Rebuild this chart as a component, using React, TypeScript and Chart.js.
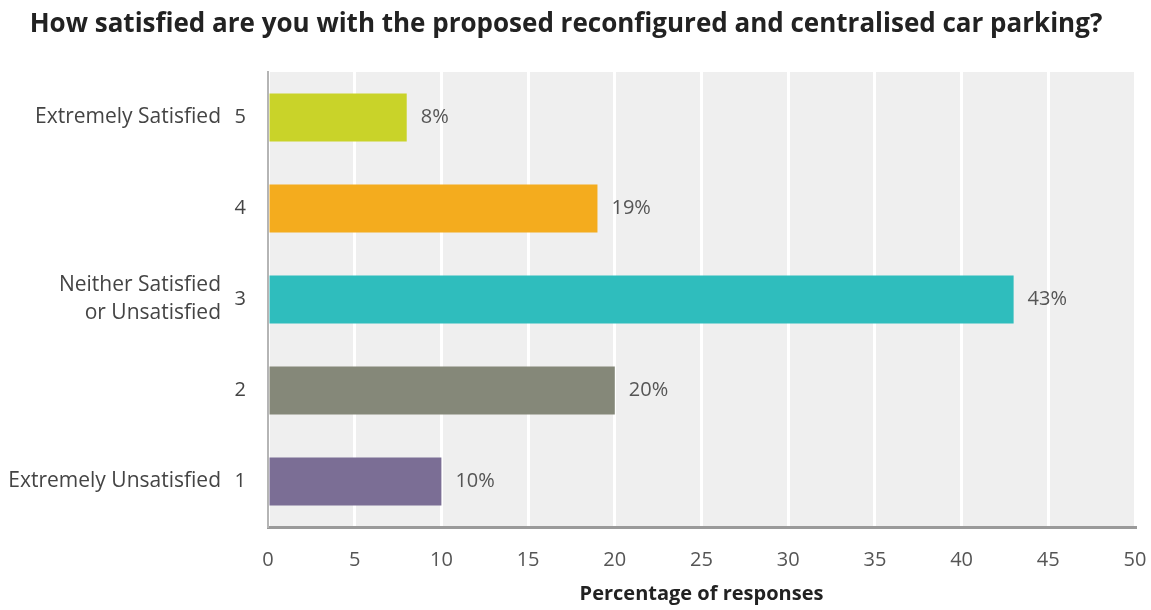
import React, { useEffect, useRef } from "react";
import { Chart, registerables } from "chart.js";

Chart.register(...registerables);

const titleText = "How satisfied are you with the proposed reconfigured and centralised car parking?";
const ratingLabels = ["5", "4", "3", "2", "1"];
const descriptions: (string | string[])[] = [
  "Extremely Satisfied",
  "",
  ["Neither Satisfied", "or Unsatisfied"],
  "",
  "Extremely Unsatisfied",
];
const percentages = [8, 19, 43, 20, 10];
const barColors = ["#c9d329", "#f4ac1e", "#2fbdbd", "#858879", "#7b6e95"];
const xTicks = [0, 5, 10, 15, 20, 25, 30, 35, 40, 45, 50];
const xAxisTitle = "Percentage of responses";

const FONT = "'Open Sans', sans-serif";

export default function App() {
  const ref = useRef<HTMLCanvasElement | null>(null);

  useEffect(() => {
    if (!ref.current) return;
    const bgPlugin = {
      id: "plotBg",
      beforeDraw(chart: any) {
        const { ctx, chartArea } = chart;
        ctx.save();
        ctx.fillStyle = "#efefef";
        ctx.fillRect(chartArea.left, chartArea.top, chartArea.right - chartArea.left, chartArea.bottom - chartArea.top);
        ctx.restore();
      },
    };
    const labelPlugin = {
      id: "extraLabels",
      afterDraw(chart: any) {
        const { ctx } = chart;
        const yScale = chart.scales.y;
        const xScale = chart.scales.x;
        ctx.save();
        // title
        ctx.font = `bold 26px ${FONT}`;
        ctx.fillStyle = "#222";
        ctx.textAlign = "center";
        ctx.textBaseline = "middle";
        ctx.fillText(titleText, 566, 25);
        // descriptions
        ctx.font = `21px ${FONT}`;
        ctx.fillStyle = "#444";
        ctx.textAlign = "right";
        descriptions.forEach((d, i) => {
          const y = yScale.getPixelForValue(i);
          const x = 221;
          if (Array.isArray(d)) {
            const lh = 28;
            const start = y - ((d.length - 1) * lh) / 2;
            d.forEach((line, j) => ctx.fillText(line, x, start + j * lh));
          } else if (d) {
            ctx.fillText(d, x, y);
          }
        });
        // value labels
        ctx.font = `20px ${FONT}`;
        ctx.fillStyle = "#555";
        ctx.textAlign = "left";
        percentages.forEach((v, i) => {
          const y = yScale.getPixelForValue(i);
          const x = xScale.getPixelForValue(v) + 14;
          ctx.fillText(`${v}%`, x, y);
        });
        ctx.restore();
      },
    };

    const chart = new Chart(ref.current, {
      type: "bar",
      data: {
        labels: ratingLabels,
        datasets: [
          {
            data: percentages,
            backgroundColor: barColors,
            borderWidth: 0,
            categoryPercentage: 1,
            barPercentage: 0.53,
          },
        ],
      },
      plugins: [bgPlugin, labelPlugin],
      options: {
        indexAxis: "y",
        animation: false,
        responsive: true,
        maintainAspectRatio: false,
        layout: { padding: { left: 0, right: 0, top: 72, bottom: 0 } },
        plugins: {
          legend: { display: false },
          tooltip: { enabled: false },
          title: { display: false },
        },
        scales: {
          x: {
            min: 0,
            max: 50,
            afterBuildTicks(scale: any) {
              scale.ticks = xTicks.map((v) => ({ value: v }));
            },
            afterFit(scale: any) {
              scale.height = 83;
              scale.paddingRight = 16;
            },
            grid: {
              color: "#ffffff",
              lineWidth: 3,
              drawTicks: false,
            },
            border: { display: true, color: "#9a9a9a", width: 3 },
            ticks: {
              color: "#555",
              font: { family: FONT, size: 20 },
              padding: 21,
            },
            title: {
              display: true,
              text: xAxisTitle,
              color: "#222",
              font: { family: FONT, size: 20, weight: "bold" },
              padding: { top: 8, bottom: 4 },
            },
          },
          y: {
            afterFit(scale: any) {
              scale.width = 268;
            },
            grid: { display: false, drawTicks: false },
            border: { display: true, color: "#b5b5b5", width: 2 },
            ticks: {
              color: "#444",
              font: { family: FONT, size: 20 },
              padding: 22,
            },
          },
        },
      },
    } as any);
    return () => chart.destroy();
  }, []);

  return (
    <div style={{ position: "fixed", left: 0, top: 0, width: 1151, height: 610, background: "#fff" }}>
      <canvas ref={ref} />
    </div>
  );
}
